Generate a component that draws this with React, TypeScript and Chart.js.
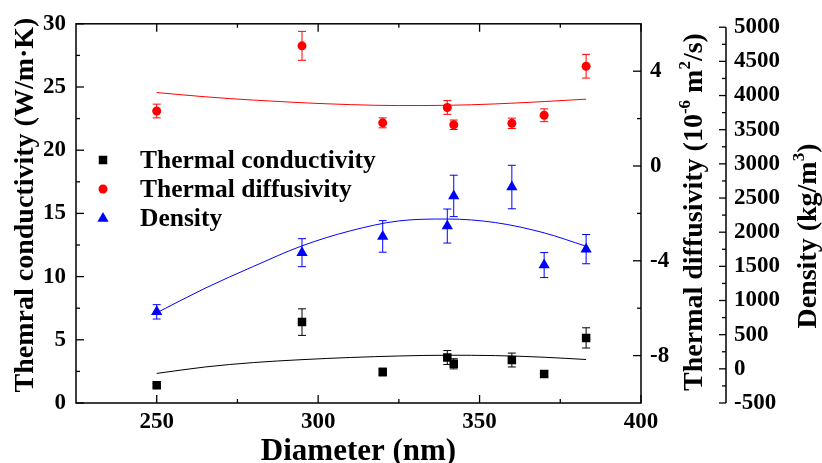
import { useEffect, useRef } from 'react';
import { Chart, registerables } from 'chart.js';

Chart.register(...registerables);

// ---------- data ----------
const diameters = [250, 295, 320, 340, 342, 360, 370, 383];
const conductivity = [1.4, 6.4, 2.45, 3.6, 3.1, 3.4, 2.3, 5.15];
const conductivityErr = [0.15, 1.05, 0.3, 0.55, 0.4, 0.55, 0.2, 0.8];
const diffusivity = [2.32, 5.07, 1.82, 2.47, 1.74, 1.8, 2.14, 4.21];
const diffusivityErr = [0.29, 0.61, 0.21, 0.29, 0.2, 0.22, 0.27, 0.5];
const density = [834, 1700, 1938, 2090, 2531, 2661, 1519, 1752];
const densityErr = [105, 205, 231, 249, 303, 318, 183, 214];

const fitX = [250, 265, 280, 295, 310, 325, 340, 355, 370, 383];
const conductivityFit = [2.34, 2.85, 3.2, 3.43, 3.6, 3.72, 3.78, 3.75, 3.62, 3.44];
const diffusivityFit = [3.1, 2.92, 2.78, 2.67, 2.59, 2.55, 2.56, 2.62, 2.72, 2.82];
const densityFit = [820, 1180, 1500, 1800, 2020, 2165, 2193, 2140, 1990, 1794];

const xTicks = [250, 300, 350, 400];
const xMinor = [275, 325, 375];
const condTicks = [0, 5, 10, 15, 20, 25, 30];
const condMinor = [2.5, 7.5, 12.5, 17.5, 22.5, 27.5];
const diffTicks = [-8, -4, 0, 4];
const diffMinor = [-6, -2, 2];
const densTicks = [-500, 0, 500, 1000, 1500, 2000, 2500, 3000, 3500, 4000, 4500, 5000];
const densMinor = [-250, 250, 750, 1250, 1750, 2250, 2750, 3250, 3750, 4250, 4750];

const seriesLabels = ['Thermal conductivity', 'Thermal diffusivity', 'Density'];
const xTitle = 'Diameter (nm)';
const yTitle = 'Themral conductivity (W/m·K)';

const FONT = '"Liberation Serif", "Times New Roman", serif';

type Seg = { t: string; sup?: boolean };

function drawRotatedRich(ctx: CanvasRenderingContext2D, segs: Seg[], baseX: number, centerY: number, size: number) {
  ctx.save();
  ctx.translate(baseX, centerY);
  ctx.rotate(-Math.PI / 2);
  ctx.textBaseline = 'alphabetic';
  ctx.textAlign = 'left';
  ctx.fillStyle = '#000';
  const fontFor = (sup?: boolean) => `bold ${sup ? Math.round(size * 0.62) : size}px ${FONT}`;
  let total = 0;
  for (const s of segs) {
    ctx.font = fontFor(s.sup);
    total += ctx.measureText(s.t).width;
  }
  let x = -total / 2;
  for (const s of segs) {
    ctx.font = fontFor(s.sup);
    ctx.fillText(s.t, x, s.sup ? -size * 0.42 : 0);
    x += ctx.measureText(s.t).width;
  }
  ctx.restore();
}

const errorBarPlugin = {
  id: 'errorBars',
  afterDatasetsDraw(chart: any) {
    const ctx = chart.ctx as CanvasRenderingContext2D;
    const sets = [
      { vals: conductivity, errs: conductivityErr, axis: 'y', color: '#000000' },
      { vals: diffusivity, errs: diffusivityErr, axis: 'y1', color: '#ff0000' },
      { vals: density, errs: densityErr, axis: 'yd', color: '#0000ff' },
    ];
    ctx.save();
    ctx.lineWidth = 1;
    for (const s of sets) {
      const sc = chart.scales[s.axis];
      ctx.strokeStyle = s.color;
      s.vals.forEach((v, i) => {
        const px = chart.scales.x.getPixelForValue(diameters[i]);
        const yTop = sc.getPixelForValue(v + s.errs[i]);
        const yBot = sc.getPixelForValue(v - s.errs[i]);
        ctx.beginPath();
        ctx.moveTo(px, yTop);
        ctx.lineTo(px, yBot);
        ctx.moveTo(px - 4, yTop);
        ctx.lineTo(px + 4, yTop);
        ctx.moveTo(px - 4, yBot);
        ctx.lineTo(px + 4, yBot);
        ctx.stroke();
      });
    }
    ctx.restore();
  },
};

const decorPlugin = {
  id: 'decor',
  afterDraw(chart: any) {
    const ctx = chart.ctx as CanvasRenderingContext2D;
    const { left, right, top, bottom } = chart.chartArea;
    const sx = chart.scales.x;
    const sy = chart.scales.y;
    const s1 = chart.scales.y1;
    const sd = chart.scales.yd;
    ctx.save();
    ctx.strokeStyle = '#000';
    ctx.lineWidth = 1.5;
    ctx.strokeRect(left, top, right - left, bottom - top);
    ctx.lineWidth = 1.3;
    const line = (x1: number, y1: number, x2: number, y2: number) => {
      ctx.beginPath();
      ctx.moveTo(x1, y1);
      ctx.lineTo(x2, y2);
      ctx.stroke();
    };
    for (const v of xTicks) {
      const p = sx.getPixelForValue(v);
      line(p, bottom, p, bottom - 8);
      line(p, top, p, top + 8);
    }
    for (const v of xMinor) {
      const p = sx.getPixelForValue(v);
      line(p, bottom, p, bottom - 4);
      line(p, top, p, top + 4);
    }
    for (const v of condTicks) {
      const p = sy.getPixelForValue(v);
      line(left, p, left + 8, p);
    }
    for (const v of condMinor) {
      const p = sy.getPixelForValue(v);
      line(left, p, left + 4, p);
    }
    for (const v of diffTicks) {
      const p = s1.getPixelForValue(v);
      line(right, p, right - 8, p);
    }
    for (const v of diffMinor) {
      const p = s1.getPixelForValue(v);
      line(right, p, right - 4, p);
    }
    const dx = sd.left;
    ctx.lineWidth = 1.5;
    line(dx, sd.getPixelForValue(5000), dx, sd.getPixelForValue(-500));
    ctx.lineWidth = 1.3;
    for (const v of densTicks) {
      const p = sd.getPixelForValue(v);
      line(dx, p, dx - 7, p);
    }
    for (const v of densMinor) {
      const p = sd.getPixelForValue(v);
      line(dx, p, dx - 4, p);
    }

    // axis titles
    ctx.fillStyle = '#000';
    ctx.font = `bold 31px ${FONT}`;
    ctx.textAlign = 'center';
    ctx.textBaseline = 'alphabetic';
    ctx.fillText(xTitle, (left + right) / 2, 460);

    drawRotatedRich(ctx, [{ t: yTitle }], 33, 205, 28);
    drawRotatedRich(
      ctx,
      [{ t: 'Thermal diffusivity (10' }, { t: '-6', sup: true }, { t: ' m' }, { t: '2', sup: true }, { t: '/s)' }],
      701.5,
      212,
      28
    );
    drawRotatedRich(ctx, [{ t: 'Density (kg/m' }, { t: '3', sup: true }, { t: ')' }], 816, 236, 28);

    // legend
    const rows = [161, 190, 219.5];
    const mx = 103;
    ctx.font = `bold 25.5px ${FONT}`;
    ctx.textAlign = 'left';
    ctx.textBaseline = 'middle';
    ctx.fillStyle = '#000000';
    ctx.fillRect(mx - 4.25, rows[0] - 1 - 4.25, 8.5, 8.5);
    ctx.fillStyle = '#ff0000';
    ctx.beginPath();
    ctx.arc(mx, rows[1] - 1, 4.5, 0, Math.PI * 2);
    ctx.fill();
    ctx.fillStyle = '#0000ff';
    const r = 6.5;
    const cy = rows[2] - 1;
    ctx.beginPath();
    ctx.moveTo(mx, cy - r);
    ctx.lineTo(mx + r * 0.866, cy + r * 0.5);
    ctx.lineTo(mx - r * 0.866, cy + r * 0.5);
    ctx.closePath();
    ctx.fill();
    ctx.fillStyle = '#000';
    seriesLabels.forEach((l, i) => ctx.fillText(l, 140, rows[i]));
    ctx.restore();
  },
};

const tickFont = { family: FONT, size: 23, weight: 'bold' as const };

export default function App() {
  const ref = useRef<HTMLCanvasElement | null>(null);
  useEffect(() => {
    document.body.style.margin = '0';
    if (!ref.current) return;
    const pts = (ys: number[]) => diameters.map((x, i) => ({ x, y: ys[i] }));
    const fit = (ys: number[]) => fitX.map((x, i) => ({ x, y: ys[i] }));
    const fitStyle = {
      showLine: true,
      pointRadius: 0,
      borderWidth: 1,
      cubicInterpolationMode: 'monotone' as const,
    };
    const chart = new Chart(ref.current, {
      type: 'scatter',
      data: {
        datasets: [
          {
            label: seriesLabels[0],
            data: pts(conductivity),
            yAxisID: 'y',
            pointStyle: 'rect',
            pointRadius: 6,
            backgroundColor: '#000000',
            borderColor: '#000000',
            borderWidth: 0,
          },
          {
            label: seriesLabels[1],
            data: pts(diffusivity),
            yAxisID: 'y1',
            pointStyle: 'circle',
            pointRadius: 4.5,
            backgroundColor: '#ff0000',
            borderColor: '#ff0000',
            borderWidth: 0,
          },
          {
            label: seriesLabels[2],
            data: pts(density),
            yAxisID: 'yd',
            pointStyle: 'triangle',
            pointRadius: 6.5,
            backgroundColor: '#0000ff',
            borderColor: '#0000ff',
            borderWidth: 0,
          },
          { label: 'fit1', data: fit(conductivityFit), yAxisID: 'y', borderColor: '#000000', ...fitStyle },
          { label: 'fit2', data: fit(diffusivityFit), yAxisID: 'y1', borderColor: '#ff0000', ...fitStyle },
          { label: 'fit3', data: fit(densityFit), yAxisID: 'yd', borderColor: '#0000ff', ...fitStyle },
        ],
      },
      options: {
        animation: false,
        responsive: false,
        layout: { padding: { top: 19, left: 0, right: 0, bottom: 0 } },
        plugins: { legend: { display: false }, tooltip: { enabled: false } },
        scales: {
          x: {
            type: 'linear',
            position: 'bottom',
            min: 225,
            max: 400,
            afterBuildTicks: (s: any) => {
              s.ticks = xTicks.map((v) => ({ value: v }));
            },
            afterFit: (s: any) => {
              s.height = 60;
            },
            grid: { display: false, drawTicks: false },
            border: { display: false },
            ticks: { font: tickFont, color: '#000', padding: 5, callback: (v: any) => String(v), maxRotation: 0 },
          },
          y: {
            type: 'linear',
            position: 'left',
            min: 0,
            max: 30,
            afterBuildTicks: (s: any) => {
              s.ticks = condTicks.map((v) => ({ value: v }));
            },
            afterFit: (s: any) => {
              s.width = 76;
            },
            grid: { display: false, drawTicks: false },
            border: { display: false },
            ticks: { font: tickFont, color: '#000', padding: 10, callback: (v: any) => String(v) },
          },
          y1: {
            type: 'linear',
            position: 'right',
            min: -10,
            max: 6,
            afterBuildTicks: (s: any) => {
              s.ticks = diffTicks.map((v) => ({ value: v }));
            },
            afterFit: (s: any) => {
              s.width = 85;
            },
            grid: { display: false, drawTicks: false },
            border: { display: false },
            ticks: { font: tickFont, color: '#000', padding: 9, callback: (v: any) => String(v) },
          },
          yd: {
            type: 'linear',
            position: 'right',
            min: -500,
            max: 5050,
            afterBuildTicks: (s: any) => {
              s.ticks = densTicks.map((v) => ({ value: v }));
            },
            afterFit: (s: any) => {
              s.width = 96;
            },
            grid: { display: false, drawTicks: false },
            border: { display: false },
            ticks: { font: tickFont, color: '#000', padding: 8, callback: (v: any) => String(v) },
          },
        },
      } as any,
      plugins: [errorBarPlugin, decorPlugin],
    });
    return () => chart.destroy();
  }, []);
  return (
    <div style={{ width: 822, height: 463 }}>
      <canvas ref={ref} width={822} height={463} style={{ display: 'block' }} />
    </div>
  );
}
